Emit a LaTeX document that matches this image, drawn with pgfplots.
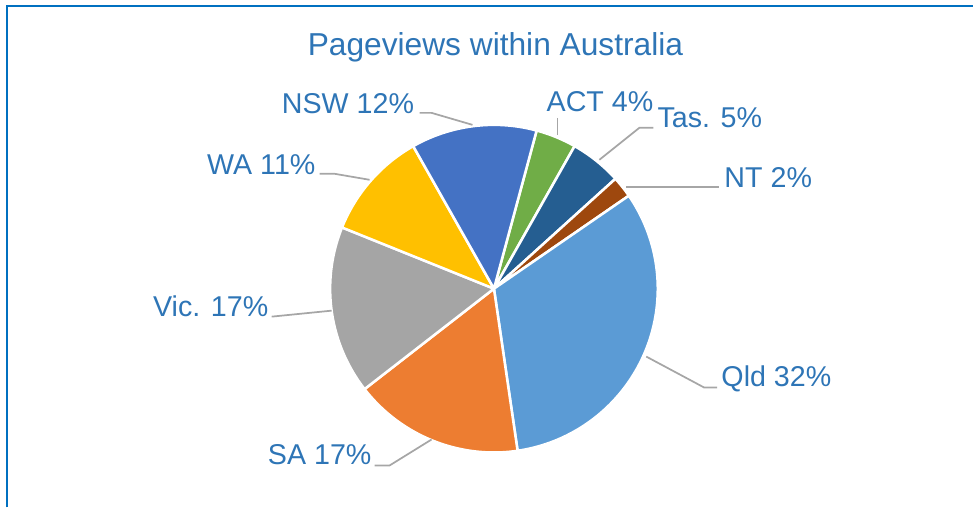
\documentclass[border=0pt]{standalone}
\usepackage{fontspec}
\setmainfont{Liberation Sans}
\usepackage{pgfplots}
\pgfplotsset{compat=1.18}
\definecolor{cQld}{HTML}{5B9BD5}
\definecolor{cSA}{HTML}{ED7D31}
\definecolor{cVic}{HTML}{A5A5A5}
\definecolor{cWA}{HTML}{FFC000}
\definecolor{cNSW}{HTML}{4472C4}
\definecolor{cACT}{HTML}{70AD47}
\definecolor{cTas}{HTML}{255E91}
\definecolor{cNT}{HTML}{9E480E}
\definecolor{txt}{RGB}{46,117,182}
\definecolor{frame}{HTML}{0070C0}
\definecolor{lead}{HTML}{A6A6A6}
% pie geometry (pixel units): centre and radius
\def\cx{494.5}
\def\cy{219}
\def\rr{164}
\def\astart{15.1}
\newcommand\slice[2]{%
  \pgfmathsetmacro\aend{\astart+3.6*#1}%
  \edef\doslice{\noexpand\addplot[draw=white, line width=1.9pt, fill=#2, domain=\astart:\aend, samples=80, line join=round]
    ({\cx+\rr*sin(x)}, {\cy+\rr*cos(x)}) -- (axis cs:\cx,\cy) -- cycle;}%
  \doslice
  \global\let\astart\aend
}
\begin{document}
\begin{tikzpicture}
\begin{axis}[
  width=730.5pt, height=381pt, scale only axis,
  xmin=0, xmax=974, ymin=0, ymax=508,
  hide axis, clip=false,
]
\path (axis cs:0,0) rectangle (axis cs:974,508);
% frame
\draw[frame, line width=1.6pt] (axis cs:6.7,0) -- (axis cs:6.7,501.6) -- (axis cs:974,501.6);
% slices (percent values), clockwise from 15.1 deg
\slice{4.0}{cACT}
\slice{5.1}{cTas}
\slice{2.1}{cNT}
\slice{32.3}{cQld}
\slice{16.8}{cSA}
\slice{16.6}{cVic}
\slice{10.7}{cWA}
\slice{12.4}{cNSW}
% title
\node[anchor=base, inner sep=0, text=txt, font=\fontsize{23.8pt}{28pt}\selectfont] at (axis cs:496,452) {Pageviews within Australia};
% leader lines
\begin{scope}[lead, line width=1.3pt]
\draw (axis cs:420,395) -- (axis cs:432,395) -- (axis cs:473,383);
\draw (axis cs:320,334) -- (axis cs:335,334) -- (axis cs:370,328);
\draw (axis cs:558,390) -- (axis cs:558,373);
\draw (axis cs:654,380) -- (axis cs:640,380) -- (axis cs:600,348);
\draw (axis cs:627,321) -- (axis cs:720,321);
\draw (axis cs:647,151) -- (axis cs:705,120) -- (axis cs:718,120);
\draw (axis cs:272,191) -- (axis cs:332,197);
\draw (axis cs:375,42) -- (axis cs:390,42) -- (axis cs:432,68);
\end{scope}
% labels
\begin{scope}[every node/.style={inner sep=0, text=txt, font=\fontsize{21.5pt}{26pt}\selectfont}]
\node[anchor=base west] at (axis cs:282,394) {NSW 12\%};
\node[anchor=base east] at (axis cs:316,333) {WA 11\%};
\node[anchor=base west] at (axis cs:547,396) {ACT 4\%};
\node[anchor=base west] at (axis cs:658,380) {Tas. 5\%};
\node[anchor=base west] at (axis cs:725,320) {NT 2\%};
\node[anchor=base west] at (axis cs:722,121) {Qld 32\%};
\node[anchor=base west] at (axis cs:153,191) {Vic. 17\%};
\node[anchor=base west] at (axis cs:268,43) {SA 17\%};
\end{scope}
\end{axis}
\end{tikzpicture}
\end{document}
